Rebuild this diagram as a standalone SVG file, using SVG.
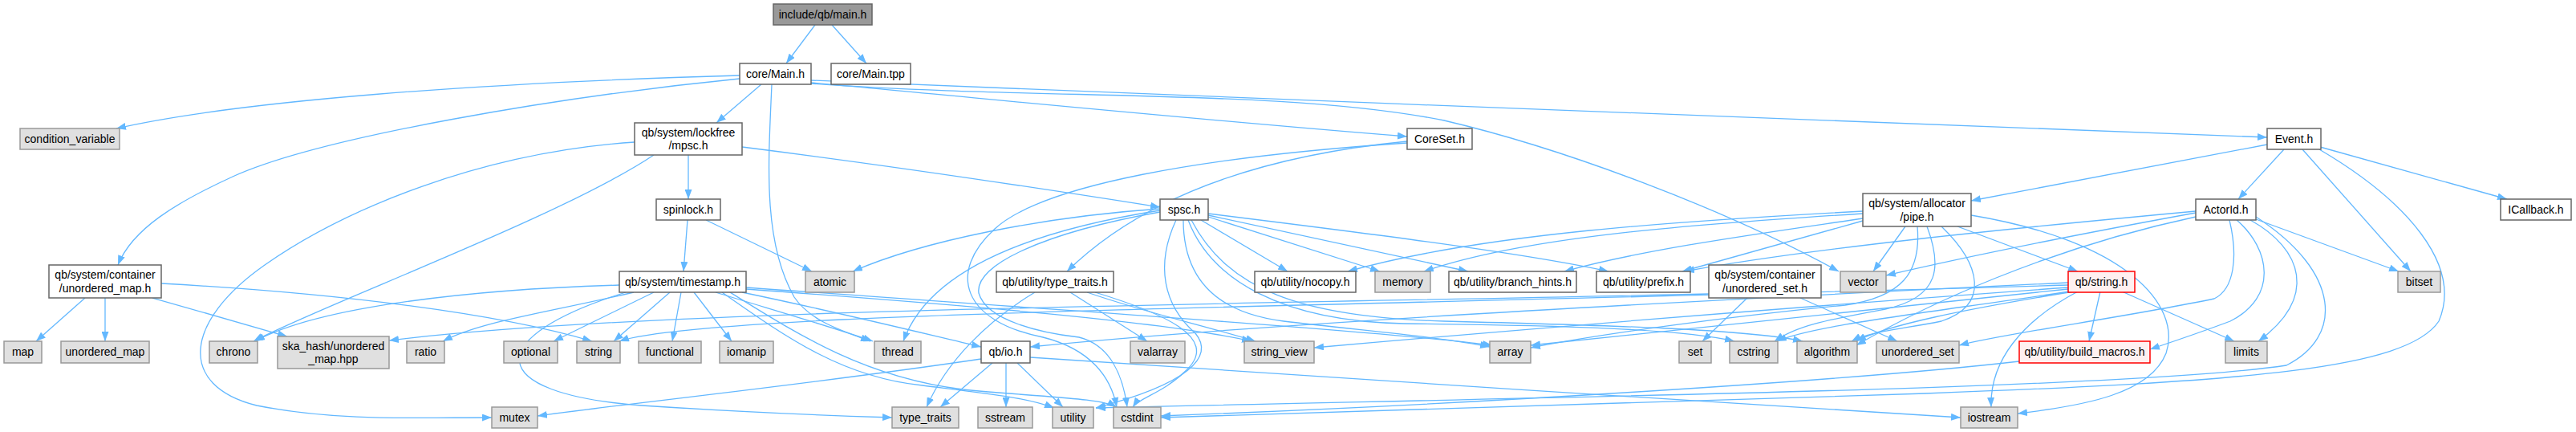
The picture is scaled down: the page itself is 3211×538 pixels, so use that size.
<svg xmlns="http://www.w3.org/2000/svg" width="3211" height="538" viewBox="0 0 3211 538">
<style>
.n rect{fill:#ffffff;stroke:#666666;stroke-width:1.5}
.g rect{fill:#e0e0e0;stroke:#999999;stroke-width:1.5}
.r rect{fill:#fff0f0;stroke:#ff0000;stroke-width:1.5}
.root rect{fill:#999999;stroke:#666666;stroke-width:1.5}
text{font-family:"Liberation Sans",Arial,sans-serif;font-size:14px;fill:#000000;text-anchor:middle}
#edges path{fill:none;stroke:#63b8ff;stroke-width:1.3;marker-end:url(#ah)}
</style>
<defs>
<marker id="ah" markerWidth="12" markerHeight="9" refX="12" refY="4.5" orient="auto" markerUnits="userSpaceOnUse"><path d="M0,0 L12,4.5 L0,9 z" fill="#63b8ff" stroke="none"/></marker>
</defs>
<rect width="3211" height="538" fill="#ffffff"/>
<g id="edges">
<path d="M1016,31 L980,79"/>
<path d="M1037,31 L1080,79"/>
<path d="M922,94 C600,103 300,125 145,160"/>
<path d="M922,98 C700,120 400,170 290,220 C220,252 165,285 147,330"/>
<path d="M949,105 L893,153"/>
<path d="M962,105 C958,200 950,300 990,370 C1010,400 1050,412 1085,425"/>
<path d="M1011,103 C1200,120 1500,150 1754,170"/>
<path d="M1011,100 C1600,125 2300,150 2826,171"/>
<path d="M1011,104 C1300,125 1600,110 1800,150 C1950,185 2150,260 2292,338"/>
<path d="M858,193 L858,248"/>
<path d="M815,193 C700,270 400,380 316,425"/>
<path d="M791,177 C600,190 430,260 330,330 C230,400 220,480 320,505 C420,525 520,520 613,520"/>
<path d="M925,183 C1100,205 1300,235 1446,258"/>
<path d="M880,274 L1012,338"/>
<path d="M857,274 L852,338"/>
<path d="M106,371 L45,425"/>
<path d="M131,371 L131,425"/>
<path d="M190,371 L358,419"/>
<path d="M201,353 C420,365 620,390 738,425"/>
<path d="M772,355 C600,360 400,380 318,425"/>
<path d="M2130,366 C1500,380 800,385 485,424"/>
<path d="M2178,371 L2122,425"/>
<path d="M2244,371 L2365,425"/>
<path d="M790,364 C680,390 600,400 552,425"/>
<path d="M815,364 L690,425"/>
<path d="M835,364 L765,425"/>
<path d="M849,364 L838,425"/>
<path d="M865,364 L912,425"/>
<path d="M892,364 C960,385 1030,405 1088,425"/>
<path d="M925,364 C1050,390 1150,415 1223,432"/>
<path d="M780,364 C600,420 600,490 800,505 C950,515 1050,518 1112,520"/>
<path d="M900,364 C980,420 1050,470 1150,480 C1230,490 1280,495 1314,508"/>
<path d="M910,364 C1000,420 1080,470 1200,485 C1300,495 1370,495 1392,507"/>
<path d="M930,360 C1200,380 1450,400 1560,425"/>
<path d="M930,358 C1300,385 1700,410 1860,430"/>
<path d="M1290,364 C1230,400 1180,450 1155,507"/>
<path d="M1334,364 L1430,425"/>
<path d="M1355,364 C1430,390 1500,405 1565,425"/>
<path d="M1365,364 C1450,390 1520,420 1480,460 C1450,490 1420,495 1412,507"/>
<path d="M1754,176 C1560,195 1420,250 1330,338"/>
<path d="M1754,178 C1500,195 1300,230 1240,285 C1180,340 1200,400 1300,420 C1360,435 1385,470 1392,507"/>
<path d="M1466,274 C1440,330 1450,380 1490,415 C1515,445 1480,478 1366,508"/>
<path d="M1446,264 C1300,290 1215,330 1220,365 C1230,400 1300,415 1345,420 C1385,430 1400,470 1405,507"/>
<path d="M1446,260 C1300,270 1150,300 1063,338"/>
<path d="M1446,262 C1300,285 1160,330 1126,425"/>
<path d="M1497,274 L1605,338"/>
<path d="M1506,270 L1720,338"/>
<path d="M1506,268 L1830,338"/>
<path d="M1506,266 C1700,290 1900,315 2005,338"/>
<path d="M1475,274 C1475,350 1520,390 1600,400 C1700,412 1800,420 1857,432"/>
<path d="M1481,274 C1510,350 1600,400 1750,403 C1950,405 2100,410 2162,425"/>
<path d="M1485,274 C1530,360 1620,395 1800,400 C2000,405 2180,410 2247,425"/>
<path d="M1223,447 C1000,480 800,500 670,518"/>
<path d="M1237,452 L1172,507"/>
<path d="M1254,452 L1254,507"/>
<path d="M1268,452 L1325,507"/>
<path d="M1284,445 C1600,465 2100,500 2444,520"/>
<path d="M2826,180 L2457,250"/>
<path d="M2847,186 L2790,248"/>
<path d="M2892,183 L3125,248"/>
<path d="M2870,186 L3005,338"/>
<path d="M2891,186 C3000,250 3070,330 3040,400 C3000,460 2800,475 2400,490 C2000,505 1600,515 1447,520"/>
<path d="M2322,263 C2100,275 1850,290 1680,338"/>
<path d="M2322,266 C2100,280 1900,295 1775,338"/>
<path d="M2322,272 C2200,290 2050,310 1950,338"/>
<path d="M2322,275 L2097,338"/>
<path d="M2375,282 L2335,338"/>
<path d="M2440,282 L2590,338"/>
<path d="M2457,268 C2650,300 2720,380 2700,440 C2680,490 2600,505 2515,515"/>
<path d="M2402,282 C2420,330 2420,370 2350,385 C2280,398 2240,405 2212,425"/>
<path d="M2420,282 C2470,330 2480,380 2420,400 C2370,410 2330,413 2308,425"/>
<path d="M2390,282 C2395,340 2370,370 2300,380 C2150,395 2000,415 1908,433"/>
<path d="M2578,352 C2200,370 1600,400 1284,432"/>
<path d="M2578,355 C2100,370 1300,385 1050,398 C900,405 800,415 772,425"/>
<path d="M2578,358 C2200,385 1900,410 1638,433"/>
<path d="M2578,360 C2300,390 2050,415 1908,430"/>
<path d="M2580,363 C2400,390 2260,405 2215,425"/>
<path d="M2585,363 C2450,385 2350,405 2314,425"/>
<path d="M2618,363 L2604,425"/>
<path d="M2645,363 L2785,425"/>
<path d="M2590,363 C2520,400 2480,450 2482,507"/>
<path d="M2737,265 C2600,290 2450,320 2351,343"/>
<path d="M2737,263 C2500,285 2250,310 2100,338"/>
<path d="M2737,270 C2550,310 2400,380 2314,430"/>
<path d="M2779,274 C2790,320 2785,360 2760,372 C2650,395 2500,415 2442,430"/>
<path d="M2788,274 C2830,310 2840,370 2780,400 C2740,415 2710,425 2680,435"/>
<path d="M2805,274 C2870,310 2890,370 2815,425"/>
<path d="M2812,273 L2990,338"/>
<path d="M2812,270 C2920,340 2920,420 2850,455 C2650,485 1900,495 1366,508"/>
<path d="M2517,450 C2300,475 1800,505 1447,518"/>
</g>
<g id="main_h" class="root"><rect x="964" y="5" width="123" height="26"/><text x="1025.5" y="23">include/qb/main.h</text></g>
<g id="core_main_h" class="n"><rect x="922" y="79" width="89" height="26"/><text x="966.5" y="97">core/Main.h</text></g>
<g id="core_main_tpp" class="n"><rect x="1036" y="79" width="99" height="26"/><text x="1085.5" y="97">core/Main.tpp</text></g>
<g id="condition_variable" class="g"><rect x="25" y="160" width="124" height="26"/><text x="87" y="178">condition_variable</text></g>
<g id="mpsc_h" class="n"><rect x="791" y="153" width="134" height="40"/><text x="858" y="170">qb/system/lockfree</text><text x="858" y="186">/mpsc.h</text></g>
<g id="coreset_h" class="n"><rect x="1754" y="160" width="81" height="26"/><text x="1794.5" y="178">CoreSet.h</text></g>
<g id="event_h" class="n"><rect x="2826" y="160" width="67" height="26"/><text x="2859.5" y="178">Event.h</text></g>
<g id="spinlock_h" class="n"><rect x="818" y="248" width="80" height="26"/><text x="858" y="266">spinlock.h</text></g>
<g id="spsc_h" class="n"><rect x="1446" y="248" width="60" height="26"/><text x="1476" y="266">spsc.h</text></g>
<g id="pipe_h" class="n"><rect x="2322" y="241" width="135" height="41"/><text x="2389.5" y="258">qb/system/allocator</text><text x="2389.5" y="275">/pipe.h</text></g>
<g id="actorid_h" class="n"><rect x="2737" y="248" width="75" height="26"/><text x="2774.5" y="266">ActorId.h</text></g>
<g id="icallback_h" class="n"><rect x="3117" y="248" width="88" height="26"/><text x="3161" y="266">ICallback.h</text></g>
<g id="unordered_map_h" class="n"><rect x="61" y="330" width="140" height="41"/><text x="131" y="347">qb/system/container</text><text x="131" y="364">/unordered_map.h</text></g>
<g id="timestamp_h" class="n"><rect x="772" y="338" width="158" height="26"/><text x="851" y="356">qb/system/timestamp.h</text></g>
<g id="atomic" class="g"><rect x="1004" y="338" width="61" height="26"/><text x="1034.5" y="356">atomic</text></g>
<g id="type_traits_h" class="n"><rect x="1242" y="338" width="146" height="26"/><text x="1315" y="356">qb/utility/type_traits.h</text></g>
<g id="nocopy_h" class="n"><rect x="1564" y="338" width="126" height="26"/><text x="1627" y="356">qb/utility/nocopy.h</text></g>
<g id="memory" class="g"><rect x="1714" y="338" width="69" height="26"/><text x="1748.5" y="356">memory</text></g>
<g id="branch_hints_h" class="n"><rect x="1806" y="338" width="159" height="26"/><text x="1885.5" y="356">qb/utility/branch_hints.h</text></g>
<g id="prefix_h" class="n"><rect x="1990" y="338" width="117" height="26"/><text x="2048.5" y="356">qb/utility/prefix.h</text></g>
<g id="unordered_set_h" class="n"><rect x="2130" y="330" width="140" height="41"/><text x="2200" y="347">qb/system/container</text><text x="2200" y="364">/unordered_set.h</text></g>
<g id="vector" class="g"><rect x="2294" y="338" width="57" height="26"/><text x="2322.5" y="356">vector</text></g>
<g id="string_h" class="r"><rect x="2578" y="338" width="83" height="26"/><text x="2619.5" y="356">qb/string.h</text></g>
<g id="bitset" class="g"><rect x="2989" y="338" width="53" height="26"/><text x="3015.5" y="356">bitset</text></g>
<g id="map" class="g"><rect x="5" y="425" width="47" height="27"/><text x="28.5" y="443">map</text></g>
<g id="unordered_map" class="g"><rect x="76" y="425" width="110" height="27"/><text x="131" y="443">unordered_map</text></g>
<g id="chrono" class="g"><rect x="261" y="425" width="60" height="27"/><text x="291" y="443">chrono</text></g>
<g id="ska_hash" class="g"><rect x="346" y="419" width="139" height="40"/><text x="415.5" y="436">ska_hash/unordered</text><text x="415.5" y="452">_map.hpp</text></g>
<g id="ratio" class="g"><rect x="507" y="425" width="47" height="27"/><text x="530.5" y="443">ratio</text></g>
<g id="optional" class="g"><rect x="628" y="425" width="67" height="27"/><text x="661.5" y="443">optional</text></g>
<g id="string" class="g"><rect x="719" y="425" width="54" height="27"/><text x="746" y="443">string</text></g>
<g id="functional" class="g"><rect x="796" y="425" width="78" height="27"/><text x="835" y="443">functional</text></g>
<g id="iomanip" class="g"><rect x="897" y="425" width="67" height="27"/><text x="930.5" y="443">iomanip</text></g>
<g id="thread" class="g"><rect x="1090" y="425" width="58" height="27"/><text x="1119" y="443">thread</text></g>
<g id="io_h" class="n"><rect x="1223" y="425" width="61" height="27"/><text x="1253.5" y="443">qb/io.h</text></g>
<g id="valarray" class="g"><rect x="1409" y="425" width="68" height="27"/><text x="1443" y="443">valarray</text></g>
<g id="string_view" class="g"><rect x="1551" y="425" width="87" height="27"/><text x="1594.5" y="443">string_view</text></g>
<g id="array" class="g"><rect x="1857" y="425" width="51" height="27"/><text x="1882.5" y="443">array</text></g>
<g id="set" class="g"><rect x="2093" y="425" width="40" height="27"/><text x="2113" y="443">set</text></g>
<g id="cstring" class="g"><rect x="2156" y="425" width="60" height="27"/><text x="2186" y="443">cstring</text></g>
<g id="algorithm" class="g"><rect x="2240" y="425" width="75" height="27"/><text x="2277.5" y="443">algorithm</text></g>
<g id="unordered_set" class="g"><rect x="2339" y="425" width="103" height="27"/><text x="2390.5" y="443">unordered_set</text></g>
<g id="build_macros_h" class="r"><rect x="2517" y="425" width="163" height="27"/><text x="2598.5" y="443">qb/utility/build_macros.h</text></g>
<g id="limits" class="g"><rect x="2774" y="425" width="52" height="27"/><text x="2800" y="443">limits</text></g>
<g id="mutex" class="g"><rect x="613" y="507" width="57" height="26"/><text x="641.5" y="525">mutex</text></g>
<g id="type_traits" class="g"><rect x="1112" y="507" width="83" height="26"/><text x="1153.5" y="525">type_traits</text></g>
<g id="sstream" class="g"><rect x="1219" y="507" width="68" height="26"/><text x="1253" y="525">sstream</text></g>
<g id="utility" class="g"><rect x="1312" y="507" width="51" height="26"/><text x="1337.5" y="525">utility</text></g>
<g id="cstdint" class="g"><rect x="1388" y="507" width="59" height="26"/><text x="1417.5" y="525">cstdint</text></g>
<g id="iostream" class="g"><rect x="2444" y="507" width="71" height="26"/><text x="2479.5" y="525">iostream</text></g>
</svg>
